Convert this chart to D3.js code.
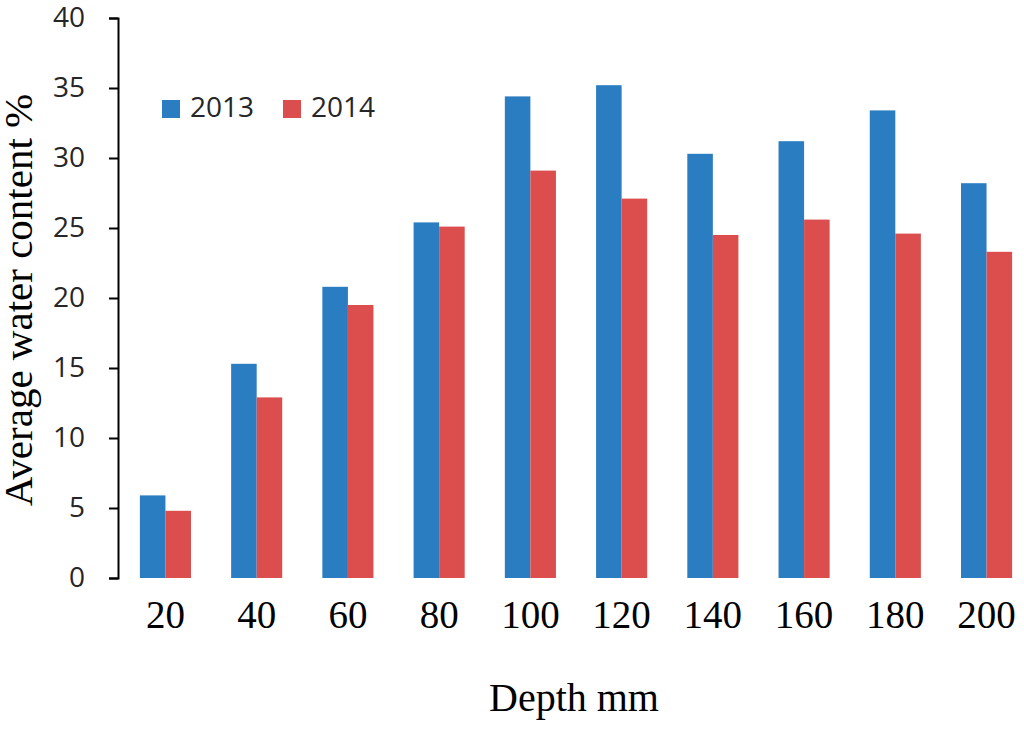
<html>
<script src='https://cdnjs.cloudflare.com/ajax/libs/d3/7.8.5/d3.min.js'></script>
<style> body {margin:0; background:white;} </style>
<body onload='init()'>
<svg width=1024 height=729>
</svg>
<script>
///DATA
var depths = ["20","40","60","80","100","120","140","160","180","200"];
var years = ["2013","2014"];
var water2013 = [5.9, 15.3, 20.8, 25.4, 34.4, 35.2, 30.3, 31.2, 33.4, 28.2];
var water2014 = [4.8, 12.9, 19.5, 25.1, 29.1, 27.1, 24.5, 25.6, 24.6, 23.3];
var yTicks = [0, 5, 10, 15, 20, 25, 30, 35, 40];
var colors = ["#2b7dc2", "#dc4d4d"];

function init() {
var svg = d3.select("svg");

var left = 118, top = 18, bottom = 578; ///plot edges

var x0 = d3.scaleBand().domain(depths).range([left, 1034]).paddingInner(0.44).paddingOuter(0.24);
var x1 = d3.scaleBand().domain(years).range([0, x0.bandwidth()]);
var ys = d3.scaleLinear().domain([0, 40]).range([bottom, top]);

var rows = depths.map(function(d, i) {
  return {depth: d, vals: [{year: "2013", v: water2013[i]}, {year: "2014", v: water2014[i]}]};
});

/// BARS
svg.append("g").selectAll("g").data(rows).enter().append("g")
.attr("transform", function(d) {return "translate(" + x0(d.depth) + ",0)";})
.selectAll("rect").data(function(d) {return d.vals;}).enter().append("rect")
.attr("x", function(d) {return x1(d.year);})
.attr("y", function(d) {return ys(d.v);})
.attr("width", x1.bandwidth())
.attr("height", function(d) {return bottom - ys(d.v);})
.attr("fill", function(d, i) {return colors[i];});

/// Y AXIS
var yax = svg.append("g")
.attr("transform", "translate(" + left + ",0)")
.call(d3.axisLeft(ys).tickValues(yTicks).tickSize(9).tickPadding(24).tickFormat(d3.format("d")));
yax.select(".domain").attr("stroke", "black").attr("stroke-width", 2);
yax.selectAll(".tick line").attr("stroke", "black").attr("stroke-width", 2);
yax.selectAll("text").style("font", "28px 'Open Sans'").attr("fill", "#262626");

/// X LABELS (no axis line)
var xax = svg.append("g")
.attr("transform", "translate(0," + bottom + ")")
.call(d3.axisBottom(x0).tickSize(0).tickPadding(50));
xax.select(".domain").remove();
xax.selectAll("text").style("font", "39px 'Liberation Serif'").attr("fill", "black").attr("dy", "0");

/// TITLES
svg.append("text")
.attr("x", 574).attr("y", 711)
.attr("text-anchor", "middle")
.style("font", "40px 'Liberation Serif'")
.text("Depth mm");

svg.append("text")
.attr("transform", "translate(32,300) rotate(-90)")
.attr("text-anchor", "middle")
.style("font", "41px 'Liberation Serif'")
.text("Average water content %");

/// LEGEND
var leg = svg.append("g").selectAll("g").data(years).enter().append("g")
.attr("transform", function(d, i) {return "translate(" + (162 + i * 121) + ",100)";});
leg.append("rect").attr("width", 18).attr("height", 18)
.attr("fill", function(d, i) {return colors[i];});
leg.append("text").attr("x", 28).attr("y", 17)
.style("font", "28px 'Open Sans'").attr("fill", "#262626")
.text(function(d) {return d;});
}
</script>
</body>
</html>
